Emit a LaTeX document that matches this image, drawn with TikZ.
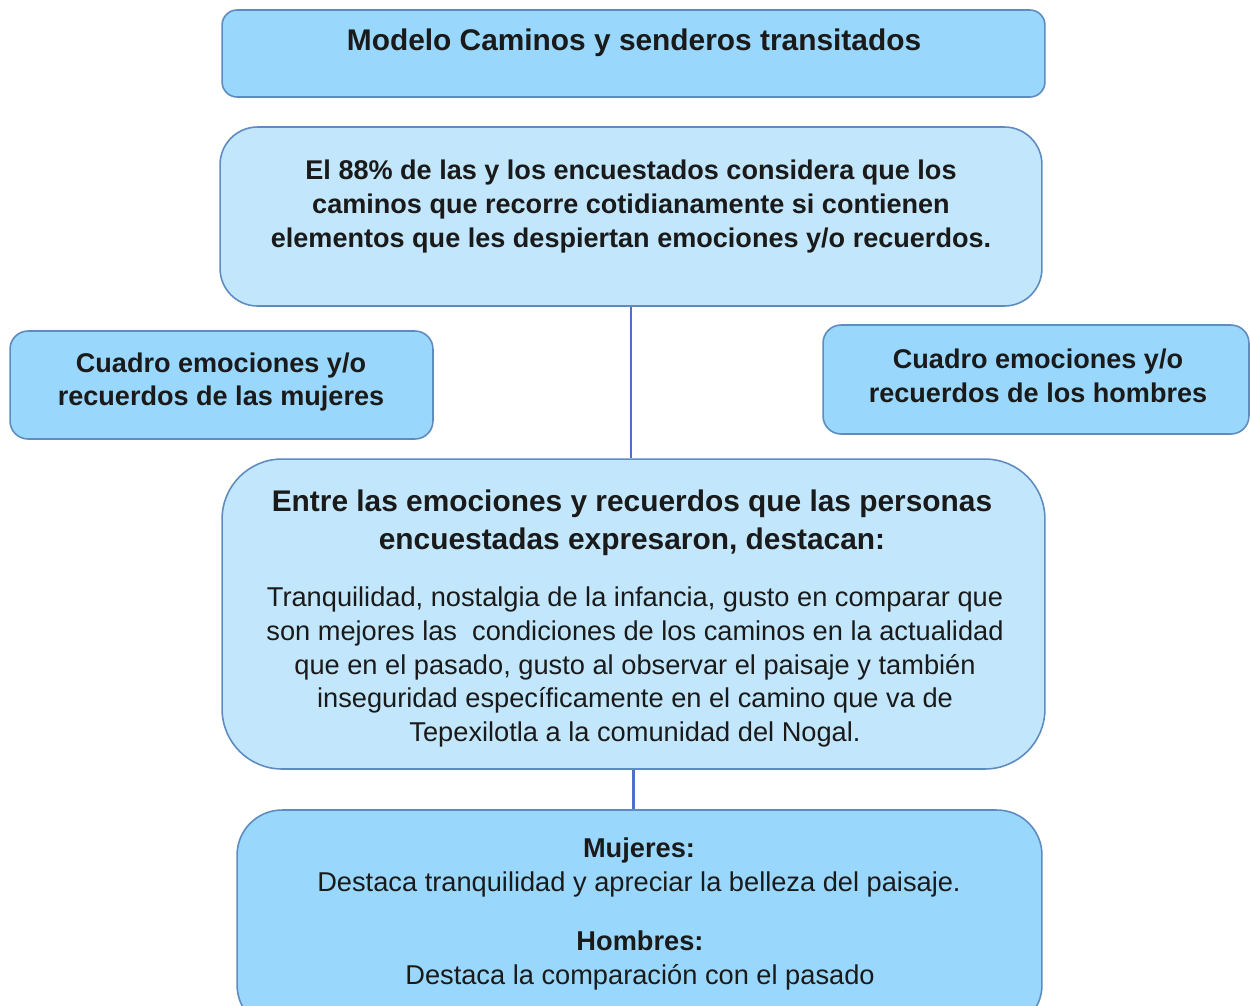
\documentclass[tikz,border=0pt]{standalone}
\usepackage{fontspec}
\setmainfont{Liberation Sans}
\definecolor{fillA}{HTML}{9AD7FC}
\definecolor{fillB}{HTML}{C2E7FC}
\definecolor{edgeC}{HTML}{5E8CC0}
\definecolor{lineC}{HTML}{4A73C4}
\definecolor{txtC}{HTML}{1A1A1A}
\begin{document}
\begin{tikzpicture}[x=0.02cm,y=-0.02cm,
  box/.style={draw=edgeC, line width=0.9pt, inner sep=0pt, text=txtC},
  boldtxt/.style={font=\fontsize{15.4}{19.3}\selectfont\bfseries, align=center, text=txtC, inner sep=0pt},
  titletxt/.style={font=\fontsize{17}{20}\selectfont\bfseries, align=center, text=txtC, inner sep=0pt},
  headtxt/.style={font=\fontsize{17}{21.5}\selectfont\bfseries, align=center, text=txtC, inner sep=0pt},
  regtxt/.style={font=\fontsize{15.5}{19.3}\selectfont, align=center, text=txtC, inner sep=0pt},
  conn/.style={draw=lineC, line width=1.3pt}]
\useasboundingbox (0,0) rectangle (1250,1005);
\fill[white] (0,0) rectangle (1250,1005);
% boxes
\node[box, fill=fillA, rounded corners=0.3cm, minimum width=16.46cm, minimum height=1.74cm] (top) at (633.5,53.5) {};
\node[box, fill=fillB, rounded corners=0.75cm, minimum width=16.44cm, minimum height=3.58cm] (b2) at (631,216.5) {};
\node[box, fill=fillA, rounded corners=0.36cm, minimum width=8.46cm, minimum height=2.16cm] (left) at (221.5,385) {};
\node[box, fill=fillA, rounded corners=0.36cm, minimum width=8.52cm, minimum height=2.18cm] (right) at (1036,379.5) {};
\node[box, fill=fillB, rounded corners=1.2cm, minimum width=16.46cm, minimum height=6.2cm] (mid) at (633.5,614) {};
\node[box, fill=fillA, rounded corners=0.9cm, minimum width=16.1cm, minimum height=4.4cm] (bot) at (639.5,920) {};
% connectors
\draw[conn] (b2.south) -- (b2.south |- mid.north);
\draw[conn] (mid.south) -- (mid.south |- bot.north);
% texts
\node[titletxt] (ttop) at (634,43) {Modelo Caminos y senderos transitados};
\node[boldtxt] (tb2) at (631,206.5) {El 88\% de las y los encuestados considera que los\\caminos que recorre cotidianamente si contienen\\elementos que les despiertan emociones y/o recuerdos.};
\node[boldtxt] (tleft) at (221,382) {Cuadro emociones y/o\\recuerdos de las mujeres};
\node[boldtxt] (tright) at (1038,376) {Cuadro emociones y/o\\recuerdos de los hombres};
\node[headtxt] (thead) at (632,523) {Entre las emociones y recuerdos que las personas\\encuestadas expresaron, destacan:};
\node[regtxt] (tbody) at (635,667) {Tranquilidad, nostalgia de la infancia, gusto en comparar que\\son mejores las~ condiciones de los caminos en la actualidad\\que en el pasado, gusto al observar el paisaje y también\\inseguridad específicamente en el camino que va de\\Tepexilotla a la comunidad del Nogal.};
\node[regtxt] (tmuj) at (639,867) {\textbf{Mujeres:}\\Destaca tranquilidad y apreciar la belleza del paisaje.};
\node[regtxt] (thom) at (640,960) {\textbf{Hombres:}\\Destaca la comparación con el pasado};
\end{tikzpicture}
\end{document}
